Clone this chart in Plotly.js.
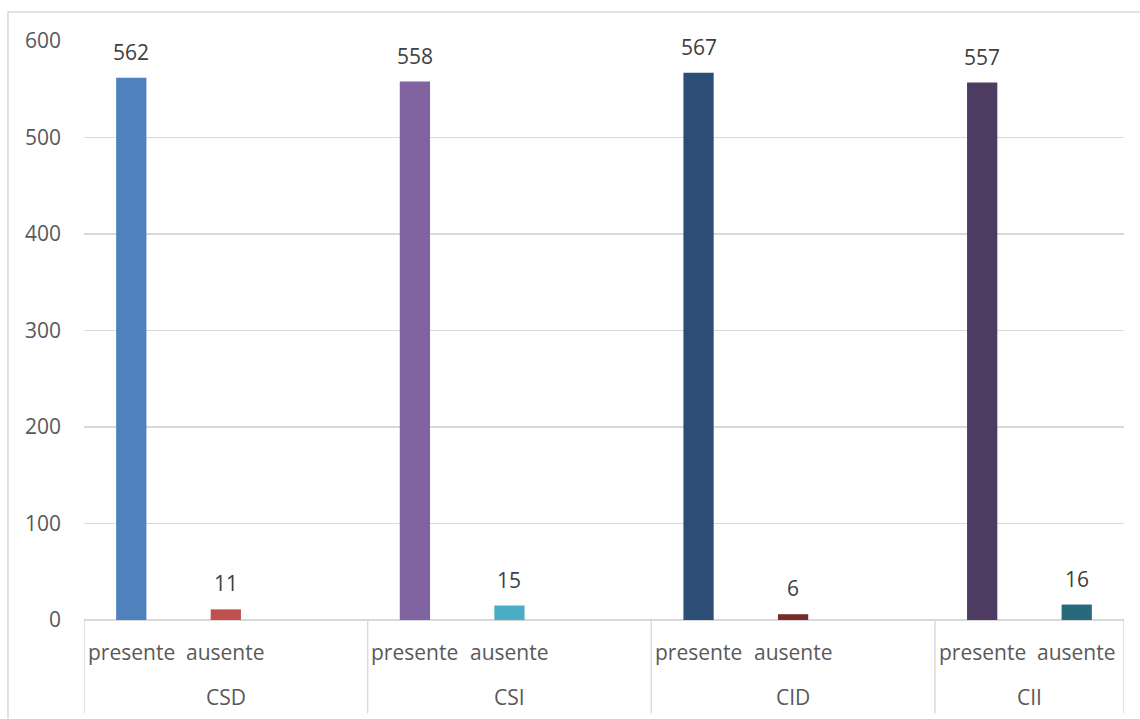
<!DOCTYPE html>
<html>
<head>
<meta charset="utf-8">
<script src="https://cdn.plot.ly/plotly-3.0.1.min.js"></script>
<style>
  html, body { margin: 0; padding: 0; background: #ffffff; }
  #chart { width: 1140px; height: 719px; }
</style>
</head>
<body>
<div id="chart"></div>
<script>
// Groups and their two sub-categories
const groups = ['CSD', 'CSI', 'CID', 'CII'];
const subLabels = ['presente', 'ausente'];

// Counts per group
const presente = [562, 558, 567, 557];
const ausente = [11, 15, 6, 16];

// Bar colours per group
const presenteColors = ['#4F81BD', '#8064A2', '#2C4D75', '#4D3B62'];
const ausenteColors = ['#C0504D', '#4BACC6', '#772C2A', '#276A7C'];

const yTicks = [0, 100, 200, 300, 400, 500, 600];

// Each group takes three slots (two bars plus a spacer); the last has no spacer
const slotsPerGroup = 3;
const xs = [], ys = [], cols = [];
groups.forEach((g, i) => {
  xs.push(i * slotsPerGroup, i * slotsPerGroup + 1);
  ys.push(presente[i], ausente[i]);
  cols.push(presenteColors[i], ausenteColors[i]);
});
const xMax = (groups.length - 1) * slotsPerGroup + 1;

const textColor = '#595959';
const lineColor = '#d9d9d9';
const font = 'Open Sans, Liberation Sans, sans-serif';
const fontSize = 21;

const annotations = [];
// value labels above bars
xs.forEach((x, k) => {
  annotations.push({
    x: x, y: ys[k], xref: 'x', yref: 'y',
    text: String(ys[k]), showarrow: false,
    yanchor: 'bottom', yshift: 10,
    font: { family: font, size: fontSize, color: '#404040' }
  });
});
// sub-category labels
xs.forEach((x, k) => {
  annotations.push({
    x: x, y: -0.055, xref: 'x', yref: 'paper',
    text: subLabels[k % 2], showarrow: false,
    yanchor: 'middle',
    font: { family: font, size: fontSize, color: textColor }
  });
});
// group labels
groups.forEach((g, i) => {
  const left = i * slotsPerGroup - 0.5;
  const right = Math.min(left + slotsPerGroup, xMax + 0.5);
  annotations.push({
    x: (left + right) / 2, y: -0.133, xref: 'x', yref: 'paper',
    text: g, showarrow: false, yanchor: 'middle',
    font: { family: font, size: fontSize, color: textColor }
  });
});

const shapes = [];
// group dividers under the axis
const dividers = groups.map((g, i) => i * slotsPerGroup - 0.5).concat([xMax + 0.5]);
dividers.forEach(d => {
  shapes.push({
    type: 'line', xref: 'x', yref: 'paper',
    x0: d, x1: d, y0: 0, y1: -0.161,
    line: { color: lineColor, width: 1.5 }
  });
});
// outer chart frame
shapes.push({
  type: 'rect', xref: 'paper', yref: 'paper',
  x0: -0.0731, x1: 1.1, y0: -0.2, y1: 1.0501,
  line: { color: lineColor, width: 1.5 }, fillcolor: 'rgba(0,0,0,0)', layer: 'below'
});

const trace = {
  type: 'bar', x: xs, y: ys,
  marker: { color: cols, line: { width: 0 } },
  width: 0.32, hoverinfo: 'skip'
};

const layout = {
  width: 1140, height: 719,
  margin: { l: 84, r: 16, t: 41, b: 99, pad: 0 },
  paper_bgcolor: '#ffffff', plot_bgcolor: '#ffffff',
  showlegend: false,
  xaxis: {
    range: [-0.5, xMax + 0.5], showticklabels: false, showgrid: false,
    zeroline: false, showline: false, ticks: '', fixedrange: true
  },
  yaxis: {
    range: [0, 600], tickvals: yTicks, ticktext: yTicks.map(String),
    showgrid: true, gridcolor: lineColor, gridwidth: 1.5,
    zeroline: true, zerolinecolor: lineColor, zerolinewidth: 1.5,
    showline: false, ticks: '', ticklabelstandoff: 22,
    tickfont: { family: font, size: fontSize, color: textColor }, fixedrange: true
  },
  annotations: annotations,
  shapes: shapes
};

Plotly.newPlot('chart', [trace], layout, { staticPlot: true, displayModeBar: false });
</script>
</body>
</html>
